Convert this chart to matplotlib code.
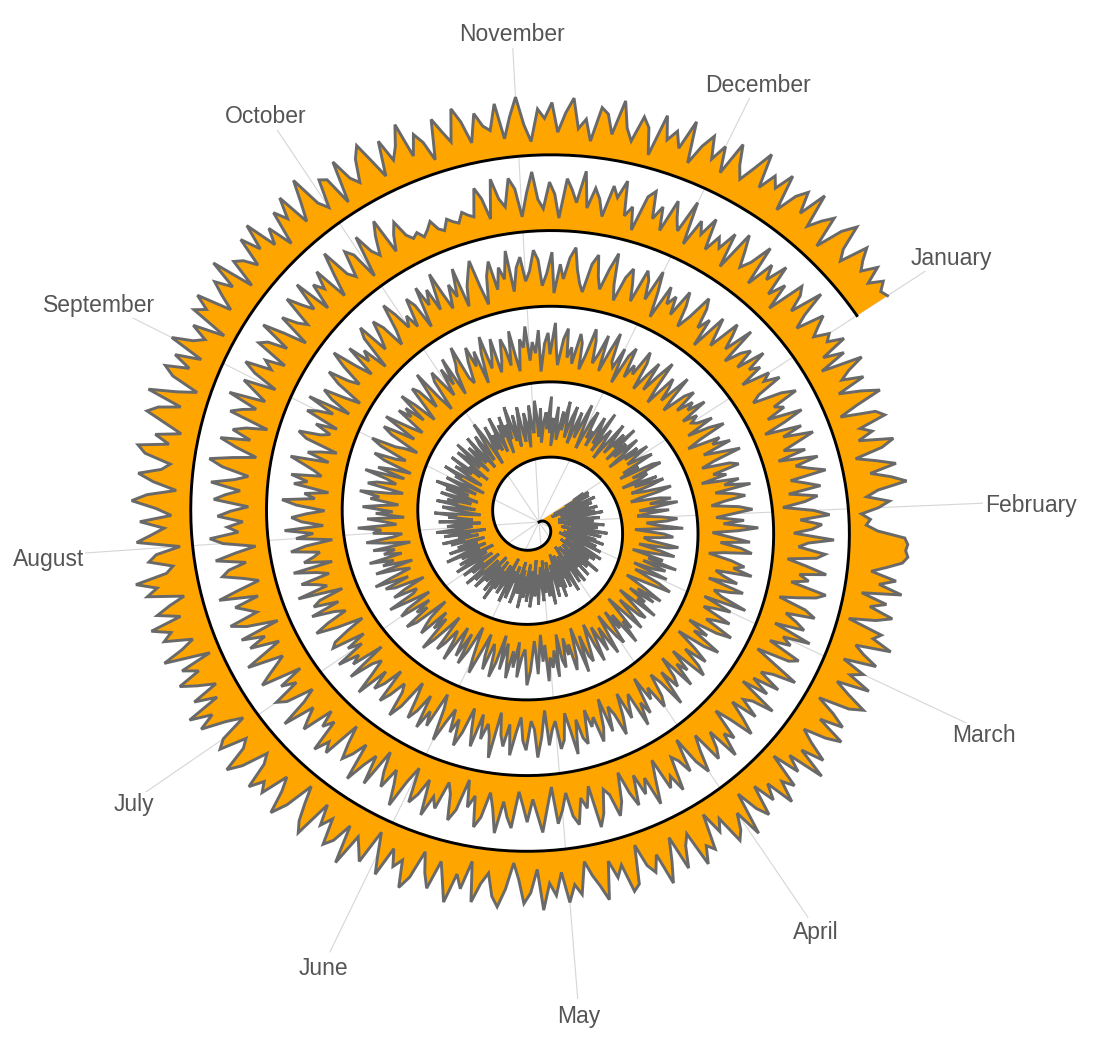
import numpy as np
import matplotlib
matplotlib.use("Agg")
import matplotlib.pyplot as plt
from matplotlib.transforms import ScaledTranslation

# Month labels and the day of year on which each month starts
months = ["January", "February", "March", "April", "May", "June",
          "July", "August", "September", "October", "November", "December"]
month_start_doy = [0, 31, 59, 90, 120, 151, 181, 212, 243, 273, 304, 334]

# Daily values, one list per year (2015 - 2019)
values_2015 = [
    82, 64, 91, 47, 73, 88, 25, 56, 39, 94, 71, 18, 60, 85, 43, 31, 77, 52, 90, 66,
    29, 48, 83, 36, 95, 70, 22, 58, 41, 87, 64, 33, 76, 50, 19, 69, 92, 45, 27, 81,
    55, 38, 62, 96, 74, 21, 47, 86, 35, 59, 30, 78, 66, 91, 42, 24, 53, 80, 37, 68,
    89, 16, 57, 44, 72, 93, 61, 28, 84, 49, 34, 75, 20, 63, 97, 52, 40, 79, 26, 70,
    46, 88, 32, 67, 54, 23, 90, 77, 39, 58, 85, 17, 62, 43, 94, 71, 30, 48, 82, 36,
    65, 25, 79, 51, 92, 40, 19, 73, 60, 87, 34, 56, 45, 96, 68, 27, 81, 38, 53, 74,
    22, 86, 63, 31, 47, 90, 57, 42, 76, 18, 69, 93, 35, 50, 84, 61, 24, 78, 44, 95,
    58, 33, 72, 20, 66, 89, 41, 55, 28, 83, 70, 37, 91, 49, 16, 64, 80, 52, 30, 75,
    43, 97, 61, 26, 85, 39, 54, 71, 21, 67, 88, 46, 32, 79, 59, 93, 36, 23, 74, 50,
    87, 62, 29, 45, 92, 68, 34, 81, 57, 19, 73, 40, 96, 64, 27, 52, 86, 38, 70, 48,
    24, 78, 55, 90, 31, 63, 42, 84, 17, 69, 95, 53, 36, 76, 60, 22, 88, 45, 33, 72,
    58, 94, 39, 20, 65, 81, 47, 28, 91, 56, 74, 35, 62, 86, 25, 50, 79, 41, 97, 67,
    30, 54, 83, 44, 18, 71, 60, 92, 37, 26, 77, 63, 48, 89, 34, 57, 21, 85, 69, 42,
    93, 52, 27, 75, 61, 38, 87, 46, 23, 66, 80, 32, 55, 96, 70, 19, 49, 82, 40, 64,
    35, 90, 58, 29, 73, 51, 84, 22, 68, 43, 95, 62, 37, 78, 26, 56, 88, 47, 31, 76,
    60, 20, 86, 53, 41, 92, 67, 34, 79, 24, 57, 72, 45, 97, 39, 63, 18, 81, 50, 28,
    74, 44, 91, 59, 33, 66, 85, 25, 52, 78, 36, 61, 94, 48, 21, 70, 87, 42, 56, 30,
    83, 65, 38, 96, 27, 54, 71, 46, 19, 88, 62, 35, 77, 51, 93, 29, 68, 40, 85, 58,
    23, 76, 49, 90, 64,
]
values_2016 = [
    47, 71, 88, 33, 59, 24, 80, 92, 41, 65, 53, 19, 76, 37, 84, 62, 28, 45, 91, 70,
    36, 22, 68, 85, 50, 94, 57, 31, 78, 43, 26, 63, 89, 72, 39, 55, 97, 48, 20, 66,
    81, 59, 34, 42, 90, 74, 27, 61, 86, 52, 18, 69, 45, 93, 38, 77, 60, 25, 83, 51,
    30, 73, 95, 64, 40, 21, 57, 88, 46, 79, 35, 67, 54, 92, 23, 49, 82, 71, 32, 60,
    87, 44, 17, 75, 58, 96, 39, 63, 28, 84, 70, 50, 26, 91, 66, 41, 79, 55, 34, 90,
    62, 24, 48, 83, 72, 37, 95, 53, 20, 68, 86, 43, 59, 31, 77, 64, 22, 89, 46, 73,
    56, 93, 35, 61, 18, 80, 49, 27, 74, 97, 65, 40, 52, 85, 29, 70, 44, 88, 58, 33,
    76, 21, 67, 91, 50, 38, 82, 60, 25, 55, 94, 71, 45, 19, 63, 87, 36, 78, 53, 30,
    92, 57, 42, 69, 84, 23, 48, 75, 96, 37, 61, 29, 80, 66, 51, 17, 73, 89, 44, 62,
    34, 85, 70, 26, 58, 93, 47, 39, 77, 54, 20, 68, 82, 41, 95, 63, 32, 49, 86, 24,
    71, 52, 90, 36, 64, 45, 79, 18, 57, 87, 43, 28, 74, 60, 97, 35, 53, 81, 22, 67,
    40, 88, 59, 31, 76, 62, 94, 46, 25, 83, 69, 38, 55, 91, 27, 72, 50, 19, 65, 84,
    48, 33, 78, 96, 56, 42, 21, 70, 87, 61, 35, 92, 66, 44, 29, 80, 58, 73, 39, 90,
    63, 26, 51, 85, 74, 37, 60, 95, 43, 18, 68, 82, 54, 32, 77, 46, 89, 23, 59, 71,
    97, 41, 30, 64, 86, 52, 75, 20, 67, 93, 39, 56, 84, 28, 45, 79, 62, 34, 88, 49,
    22, 72, 58, 91, 36, 65, 47, 83, 17, 61, 78, 44, 94, 53, 27, 69, 86, 40, 57, 31,
    80, 66, 24, 48, 92, 73, 38, 55, 87, 29, 63, 96, 50, 42, 76, 19, 68, 84, 35, 59,
    45, 89, 71, 26, 54, 81, 33, 64, 93, 47, 21, 75, 60, 37, 90, 52, 28, 67, 82, 43,
    70, 56, 85, 39, 62, 48,
]
values_2017 = [
    55, 79, 32, 67, 90, 44, 21, 73, 58, 86, 38, 63, 95, 49, 27, 71, 84, 40, 60, 18,
    77, 52, 93, 35, 62, 81, 46, 25, 68, 89, 57, 30, 74, 41, 96, 64, 23, 50, 83, 36,
    69, 87, 43, 19, 56, 78, 61, 92, 34, 48, 72, 26, 85, 65, 39, 54, 97, 28, 76, 51,
    33, 82, 60, 45, 94, 70, 22, 59, 37, 88, 64, 17, 53, 80, 42, 75, 91, 29, 66, 47,
    86, 24, 58, 73, 39, 96, 51, 31, 68, 84, 44, 62, 20, 79, 57, 93, 35, 48, 71, 26,
    63, 90, 54, 38, 77, 21, 66, 87, 45, 59, 30, 83, 72, 41, 95, 56, 27, 69, 82, 37,
    50, 74, 18, 61, 92, 47, 34, 80, 65, 28, 53, 89, 40, 76, 58, 23, 97, 62, 44, 70,
    31, 85, 57, 25, 67, 91, 49, 73, 36, 60, 94, 42, 19, 78, 55, 87, 33, 64, 81, 46,
    22, 71, 93, 52, 39, 66, 84, 27, 58, 75, 43, 96, 61, 35, 49, 88, 20, 72, 56, 90,
    41, 63, 29, 82, 74, 47, 17, 59, 92, 68, 34, 51, 86, 38, 77, 64, 24, 95, 45, 60,
    83, 36, 55, 90, 26, 70, 53, 42, 87, 62, 19, 76, 48, 93, 31, 65, 81, 57, 28, 73,
    96, 44, 61, 23, 79, 58, 85, 37, 50, 69, 91, 30, 66, 46, 21, 74, 89, 54, 40, 67,
    33, 88, 72, 48, 94, 25, 60, 78, 43, 18, 63, 86, 52, 35, 71, 97, 56, 29, 82, 45,
    62, 20, 75, 91, 39, 57, 84, 66, 27, 49, 93, 70, 41, 58, 34, 80, 64, 22, 87, 53,
    76, 38, 96, 59, 31, 68, 45, 89, 24, 55, 73, 92, 47, 17, 61, 83, 36, 70, 50, 94,
    28, 65, 81, 42, 57, 90, 74, 33, 52, 86, 21, 67, 44, 78, 95, 60, 39, 26, 72, 88,
    54, 35, 69, 97, 47, 23, 63, 80, 56, 30, 85, 71, 41, 92, 58, 19, 76, 49, 66, 37,
    83, 61, 27, 50, 91, 75, 43, 64, 18, 79, 55, 34, 87, 68, 46, 94, 32, 59, 73, 40,
    86, 52, 68, 29, 74,
]
values_2018 = [
    60, 84, 41, 27, 73, 95, 52, 66, 34, 89, 57, 20, 78, 45, 92, 63, 38, 71, 25, 87,
    49, 68, 94, 36, 58, 81, 29, 74, 53, 17, 65, 90, 43, 77, 61, 32, 96, 55, 40, 83,
    70, 24, 56, 88, 46, 62, 35, 93, 79, 51, 22, 67, 85, 39, 59, 75, 28, 91, 48, 64,
    31, 86, 72, 19, 54, 97, 60, 42, 80, 37, 69, 26, 92, 57, 44, 76, 33, 63, 89, 50,
    23, 74, 58, 95, 41, 67, 82, 30, 53, 88, 64, 18, 71, 47, 36, 90, 61, 78, 25, 55,
    93, 45, 69, 34, 81, 57, 21, 66, 87, 50, 39, 76, 96, 28, 62, 44, 85, 70, 32, 59,
    79, 20, 52, 91, 63, 38, 74, 48, 26, 84, 67, 43, 94, 56, 31, 72, 89, 40, 60, 17,
    68, 87, 46, 29, 75, 58, 92, 35, 63, 80, 24, 51, 97, 65, 42, 77, 54, 22, 86, 39,
    61, 94, 33, 57, 73, 48, 19, 82, 66, 90, 37, 55, 28, 79, 62, 45, 96, 50, 27, 71,
    85, 41, 64, 23, 88, 70, 52, 36, 93, 59, 30, 76, 47, 83, 18, 67, 91, 44, 58, 74,
    34, 95, 60, 26, 49, 81, 69, 40, 87, 55, 21, 72, 92, 46, 63, 38, 78, 57, 29, 84,
    66, 43, 90, 53, 32, 75, 97, 61, 24, 58, 86, 39, 70, 50, 17, 82, 65, 44, 93, 35,
    56, 79, 27, 68, 89, 47, 62, 31, 85, 73, 42, 94, 59, 22, 76, 51, 37, 88, 64, 45,
    91, 30, 72, 55, 83, 25, 60, 96, 48, 36, 78, 65, 19, 86, 54, 41, 70, 92, 33, 58,
    75, 48, 38, 44, 33, 41, 52, 36, 30, 46, 39, 34, 49, 42, 37, 81, 62, 28, 90, 57,
    43, 87, 69, 24, 61, 94, 50, 35, 77, 58, 20, 83, 66, 46, 97, 39, 72, 56, 29, 80,
    63, 92, 37, 54, 18, 76, 88, 45, 68, 31, 85, 59, 41, 95, 26, 71, 52, 84, 34, 62,
    47, 79, 23, 90, 65, 40, 57, 93, 28, 74, 51, 86, 36, 64, 21, 82, 70, 43, 96, 55,
    32, 77, 60, 45, 68,
]
values_2019 = [
    58, 83, 39, 71, 26, 92, 64, 47, 80, 33, 67, 95, 52, 21, 76, 88, 44, 61, 36, 90,
    69, 24, 55, 85, 42, 73, 97, 50, 31, 66, 48, 20, 34, 27, 45, 88, 93, 90, 94, 86,
    62, 38, 79, 53, 91, 28, 70, 45, 84, 59, 17, 74, 63, 96, 40, 57, 82, 30, 68, 49,
    87, 35, 60, 93, 72, 22, 54, 78, 41, 89, 65, 29, 51, 83, 46, 97, 37, 64, 19, 75,
    56, 90, 43, 68, 32, 81, 61, 25, 94, 48, 73, 86, 39, 57, 20, 77, 65, 92, 34, 50,
    84, 27, 63, 96, 44, 70, 55, 18, 79, 88, 42, 60, 31, 91, 67, 48, 24, 75, 58, 85,
    36, 72, 52, 94, 29, 66, 83, 45, 19, 61, 90, 74, 38, 56, 87, 23, 69, 47, 95, 62,
    33, 80, 57, 25, 71, 92, 49, 64, 37, 86, 53, 21, 78, 60, 44, 97, 35, 68, 82, 40,
    59, 26, 89, 73, 46, 18, 65, 91, 54, 32, 77, 62, 85, 43, 28, 70, 93, 51, 38, 81,
    67, 22, 48, 87, 60, 95, 39, 74, 30, 58, 83, 45, 69, 17, 90, 56, 34, 78, 63, 92,
    41, 76, 53, 27, 84, 66, 98, 47, 35, 72, 59, 20, 88, 64, 43, 81, 31, 55, 94, 70,
    24, 61, 86, 50, 37, 79, 92, 44, 68, 28, 57, 89, 73, 39, 96, 52, 21, 66, 83, 46,
    75, 34, 91, 58, 42, 69, 18, 80, 63, 87, 30, 54, 76, 48, 95, 25, 71, 60, 38, 85,
    52, 93, 40, 65, 23, 78, 56, 89, 33, 62, 97, 45, 29, 74, 67, 19, 86, 50, 36, 72,
    90, 57, 26, 81, 44, 63, 95, 38, 70, 53, 21, 84, 61, 41, 92, 68, 32, 77, 55, 46,
    87, 30, 64, 94, 49, 22, 73, 58, 83, 36, 67, 91, 43, 59, 25, 80, 71, 40, 96, 54,
    35, 77, 62, 20, 88, 51, 69, 44, 93, 27, 60, 82, 47, 74, 33, 89, 57, 38, 65, 97,
    42, 71, 55, 86, 28, 63, 80, 46, 92, 37, 58, 75, 24, 68, 90, 50, 34, 79, 61, 48,
    72, 45, 66, 53, 58,
]

daily = np.array(values_2015 + values_2016 + values_2017 + values_2018 + values_2019,
                 dtype=float)

# Time runs clockwise; one full turn per 365 days, radius grows with time
days_per_turn = 365.0
days = np.arange(len(daily))
turns = days / days_per_turn
theta = 2 * np.pi * turns
ring_gap = 75.8      # radial distance between consecutive yearly turns
bar_scale = 0.63     # radial length per unit of value
base = ring_gap * turns
top = base + bar_scale * daily

W, H = 1112, 1050
fig = plt.figure(figsize=(W / 100, H / 100), dpi=100)
cx, cy, R = 539, 522, 480
ax = fig.add_axes([(cx - R) / W, (H - cy - R) / H, 2 * R / W, 2 * R / H],
                  projection="polar")
ax.set_theta_offset(np.deg2rad(33.0))
ax.set_theta_direction(-1)
ax.set_rlim(0, R)
ax.axis("off")

# Month spokes and labels (labels nudged down so the glyphs sit centred on the spoke)
label_trans = ax.transData + ScaledTranslation(0, -0.04, fig.dpi_scale_trans)
for name, d in zip(months, month_start_doy):
    t = 2 * np.pi * d / days_per_turn
    ax.plot([t, t], [0, 478], color="#d6d6d6", lw=0.8, zorder=1)
    ax.text(t, 492, name, ha="center", va="center", fontsize=16.5,
            color="#555555", family=["Liberation Sans", "DejaVu Sans"],
            bbox=dict(facecolor="white", edgecolor="none", pad=1.0),
            transform=label_trans, clip_on=False, zorder=6)

# Value band outward from the spiral
ax.fill(np.concatenate([theta, theta[::-1]]),
        np.concatenate([top, base[::-1]]),
        color="#FFA500", lw=0, zorder=2)
ax.plot(theta, top, color="#696969", lw=2.1, solid_joinstyle="miter", zorder=3)
ax.plot(theta, base, color="black", lw=2.1, zorder=4)

fig.savefig("out.png", dpi=100, facecolor="white")
